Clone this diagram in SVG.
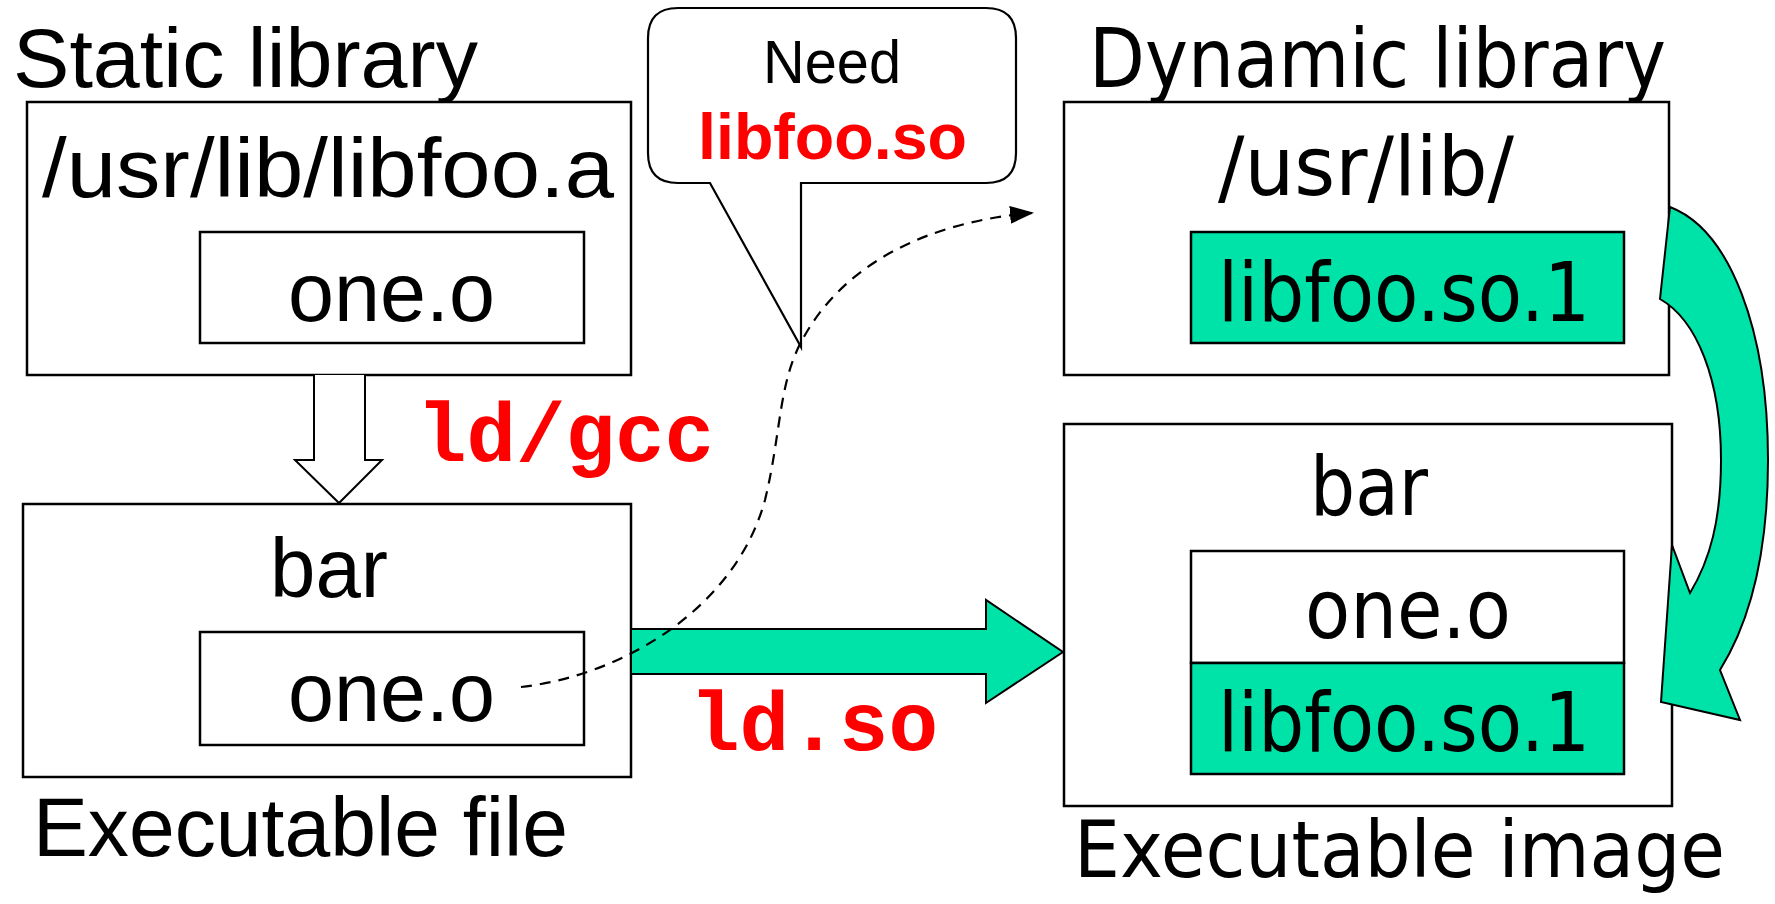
<svg xmlns="http://www.w3.org/2000/svg" width="1775" height="904" viewBox="0 0 1775 904">
<style>
.box{fill:#fff;stroke:#000;stroke-width:2.5}
.gbox{fill:#00E3A8;stroke:#000;stroke-width:2.5}
.n{font-family:"Liberation Sans",Arial,sans-serif;font-size:84px;fill:#000}
.w{font-family:"DejaVu Sans","Liberation Sans",sans-serif;font-size:82px;fill:#000}
.c{font-family:"Liberation Sans",Arial,sans-serif;font-size:62px;fill:#000}
.code{font-family:"Liberation Mono","Courier New",monospace;font-weight:bold;font-size:84px;fill:#ff0000}
.dash{fill:none;stroke:#000;stroke-width:2.2;stroke-dasharray:11 8}
</style>
<defs>
<marker id="ah" viewBox="0 0 24 18" refX="22" refY="9" markerWidth="24" markerHeight="18" markerUnits="userSpaceOnUse" orient="auto">
<path d="M0,0 L24,9 L0,18 Z" fill="#000"/>
</marker>
</defs>
<rect width="1775" height="904" fill="#fff"/>

<g id="static-library">
<text class="n" x="13" y="87" textLength="465" lengthAdjust="spacingAndGlyphs">Static library</text>
<rect class="box" x="27" y="102" width="604" height="273"/>
<text class="n" x="42" y="197" textLength="572" lengthAdjust="spacingAndGlyphs">/usr/lib/libfoo.a</text>
<rect class="box" x="200" y="232" width="384" height="111"/>
<text class="n" x="288" y="321" textLength="207" lengthAdjust="spacingAndGlyphs">one.o</text>
</g>

<g id="executable-file">
<rect class="box" x="23" y="504" width="608" height="273"/>
<text class="n" x="270" y="597" textLength="118" lengthAdjust="spacingAndGlyphs">bar</text>
<rect class="box" x="200" y="632" width="384" height="113"/>
<text class="n" x="288" y="721" textLength="207" lengthAdjust="spacingAndGlyphs">one.o</text>
<text class="n" x="33" y="856" textLength="535" lengthAdjust="spacingAndGlyphs">Executable file</text>
</g>

<g id="callout">
<path d="M678,8 H986 Q1016,8 1016,38 V153 Q1016,183 986,183 H801 V347 L710,183 H678 Q648,183 648,153 V38 Q648,8 678,8 Z" fill="#fff" stroke="#000" stroke-width="2.2"/>
<text class="c" x="763" y="83" textLength="138" lengthAdjust="spacingAndGlyphs">Need</text>
<text class="c" x="698" y="159" font-weight="bold" style="fill:#ff0000;font-size:64px" textLength="269" lengthAdjust="spacingAndGlyphs">libfoo.so</text>
</g>

<g id="dynamic-library">
<text class="w" x="1089" y="87" textLength="577" lengthAdjust="spacingAndGlyphs">Dynamic library</text>
<rect class="box" x="1064" y="102" width="605" height="273"/>
<text class="w" x="1218" y="195" textLength="296" lengthAdjust="spacingAndGlyphs">/usr/lib/</text>
<rect class="gbox" x="1191" y="232" width="433" height="111"/>
<text class="w" x="1218" y="321" textLength="372" lengthAdjust="spacingAndGlyphs">libfoo.so.1</text>
</g>

<g id="executable-image">
<rect class="box" x="1064" y="424" width="608" height="382"/>
<text class="w" x="1310" y="515" textLength="118" lengthAdjust="spacingAndGlyphs">bar</text>
<rect class="box" x="1191" y="551" width="433" height="112"/>
<text class="w" x="1305" y="638" textLength="206" lengthAdjust="spacingAndGlyphs">one.o</text>
<rect class="gbox" x="1191" y="663" width="433" height="111"/>
<text class="w" x="1218" y="751" textLength="372" lengthAdjust="spacingAndGlyphs">libfoo.so.1</text>
<text class="w" x="1074" y="877" style="font-size:79px" textLength="651" lengthAdjust="spacingAndGlyphs">Executable image</text>
</g>

<g id="connectors">
<path d="M314,375 V460 H295 L339,503 L382,460 H365 V375" fill="#fff" stroke="#000" stroke-width="2"/>
<text class="code" x="417" y="461" textLength="297" lengthAdjust="spacingAndGlyphs">ld/gcc</text>
<path d="M631,629 H986 V600 L1063,652 L986,703 V674 H631 Z" fill="#00E3A8" stroke="#000" stroke-width="2"/>
<text class="code" x="690" y="750" textLength="248" lengthAdjust="spacingAndGlyphs">ld.so</text>
<path class="dash" d="M521,687 C620,676 735,610 765,500 C782,430 778,380 805,335 C845,265 925,222 1032,213" marker-end="url(#ah)"/>
<path d="M1670,207 C1730,230 1768,330 1768,460 C1768,560 1748,625 1720,670 L1740,720 L1661,702 L1672,545 L1690,593 C1710,560 1721,520 1721,460 C1721,380 1697,320 1660,299 Z" fill="#00E3A8" stroke="#000" stroke-width="2"/>
</g>
</svg>
